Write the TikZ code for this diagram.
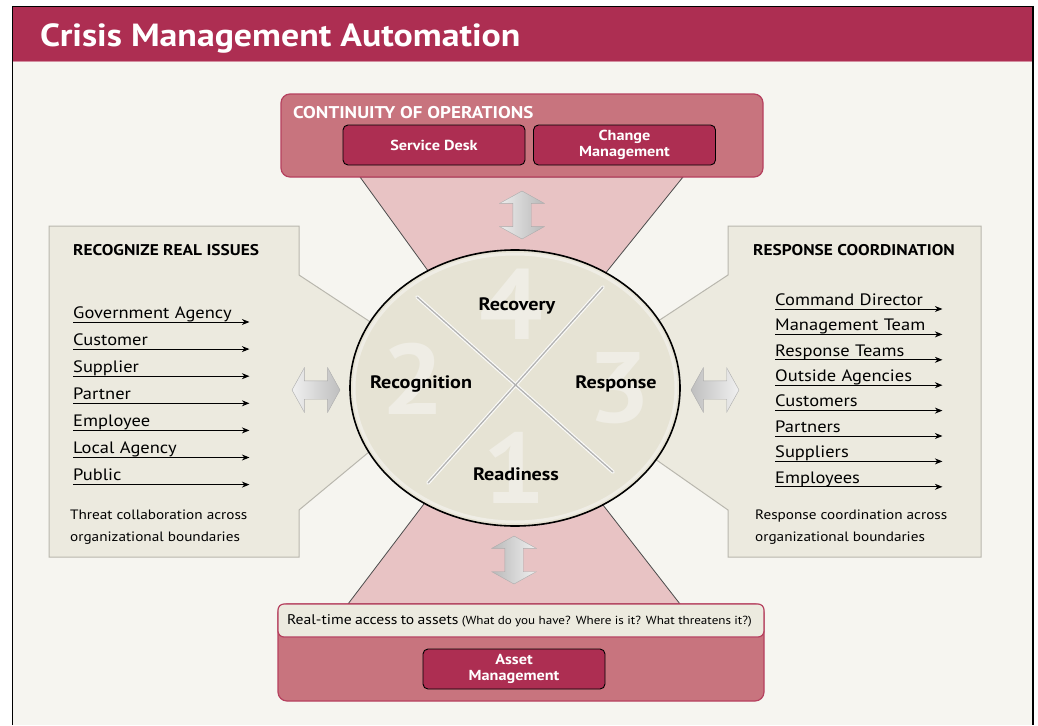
\documentclass[tikz,border=0pt]{standalone}
\usepackage{fontspec}
\setmainfont{PT Sans}[FakeStretch=1.12]
\usepackage{xcolor}
\usepackage{tikz}
\usetikzlibrary{arrows.meta,positioning,shapes.arrows,shapes.geometric}

\definecolor{crimson}{HTML}{AD2E52}
\definecolor{rose}{HTML}{C8747E}
\definecolor{roseline}{HTML}{B6415F}
\definecolor{blush}{HTML}{E8C3C4}
\definecolor{paper}{HTML}{F6F5F0}
\definecolor{sand}{HTML}{ECEADF}
\definecolor{sandline}{HTML}{B9B7AE}
\definecolor{disc}{HTML}{E6E3D4}
\definecolor{ghost}{HTML}{EFEDE5}

\begin{document}
\begin{tikzpicture}[
    x=1pt, y=-1pt,
    >={Stealth[length=7.5pt, width=6pt]},
    node distance=7.7pt,
    panel/.style={draw=roseline, fill=rose, line width=1.2pt, rounded corners=9pt},
    tool/.style={draw=black, fill=crimson, text=white, line width=0.9pt, rounded corners=5pt, align=center, font=\fontsize{14.5}{16}\selectfont\bfseries, minimum width=182pt, minimum height=40pt},
    heading/.style={font=\fontsize{15.5}{17}\selectfont\bfseries, inner sep=0pt, anchor=base west},
    item/.style={font=\fontsize{16.5}{18}\selectfont, text width=#1, text height=12pt, text depth=0pt, inner xsep=0pt, inner ysep=3.5pt, align=left},
    note/.style={font=\fontsize{13.6}{22}\selectfont, inner sep=0pt, anchor=base west, align=left},
    phase/.style={font=\fontsize{18}{20}\selectfont\bfseries},
    bignum/.style={font=\fontsize{100}{100}\selectfont\bfseries, text=ghost},
    bigarrow/.style={double arrow, double arrow head extend=13pt, double arrow tip angle=122, minimum height=48pt, inner sep=9pt, draw=gray!65},
    funnel/.style={fill=blush, draw=black!70, line width=0.8pt},
    side/.style={fill=sand, draw=sandline, line width=1pt}
]
\useasboundingbox (0,0) rectangle (1038,725);

% page and title bar
\fill[paper] (12,6) rectangle (1033,725);
\fill[crimson] (13,7) rectangle (1032,61);
\draw[roseline!60, line width=1pt] (13,61.5) -- (1032,61.5);
\draw[line width=1.5pt] (12.5,725) -- (12.5,6.5) -- (1033,6.5) -- (1033,725);
\node[anchor=base west, inner sep=0pt, text=white, font=\fontsize{32}{34}\selectfont\bfseries] (title) at (40,47) {Crisis Management Automation};

% funnels into the cycle
\draw[funnel] (360,177) -- (683,177) -- (513,388) -- cycle;
\draw[funnel] (348,604) -- (680,604) -- (512,388) -- cycle;

% side panels
\draw[side] (49,226) -- (299,226) -- (299,275) -- (457,379) -- (299,510) -- (299,557) -- (49,557) -- cycle;
\draw[side] (981,226) -- (728,226) -- (728,275) -- (555,389) -- (728,510) -- (728,557) -- (981,557) -- cycle;

% cycle of phases
\node[draw, ellipse, fill=disc, line width=1.6pt, minimum width=330pt, minimum height=276pt] (cycle) at (515,388) {};
\draw[ghost, line width=3pt] (515,388) ellipse [x radius=161, y radius=134];
\node[bignum] (n4) at (511,304) {4};
\node[bignum] (n2) at (413,379) {2};
\node[bignum] (n3) at (619,388) {3};
\node[bignum] (n1) at (514,468) {1};
\draw[white!60!paper, line width=3.6pt, line cap=round] (417,297) -- (613,472);
\draw[white!60!paper, line width=3.6pt, line cap=round] (603,287) -- (428,483);
\draw[gray!60, line width=1.3pt, line cap=round] (417,297) -- (613,472);
\draw[gray!60, line width=1.3pt, line cap=round] (603,287) -- (428,483);
\node[phase] (recovery) at (517,306) {Recovery};
\node[phase] (recognition) at (421,384) {Recognition};
\node[phase] (response) at (616,384) {Response};
\node[phase] (readiness) at (516,474) {Readiness};

% continuity of operations
\node[panel, minimum width=482pt, minimum height=83pt] (coop) at (522,135.5) {};
\node[heading, text=white, font=\fontsize{17}{18}\selectfont\bfseries] (cooptitle) at (293,118) {CONTINUITY OF OPERATIONS};
\node[tool] (desk) at (434,145) {Service Desk};
\node[tool] (change) at (624.5,145) {Change\\Management};

% asset management
\node[panel, minimum width=486pt, minimum height=97pt] (assets) at (521,652.5) {};
\node[draw=roseline, fill=sand, line width=1.2pt, rounded corners=6pt, minimum width=486pt, minimum height=33pt, text width=468pt, inner xsep=9pt, align=left, anchor=north] (access) at (assets.north) {\fontsize{14}{16}\selectfont Real-time access to assets {\fontsize{11.7}{14}\selectfont (What do you have? Where is it? What threatens it?)}};
\node[tool] (assetmgmt) at (514,669) {Asset\\Management};

% recognize real issues
\node[heading] (recog) at (73,255) {RECOGNIZE REAL ISSUES};
\node[item=176pt, anchor=south west] (gov) at (73,322) {Government Agency};
\node[item=176pt, below=of gov] (cust) {Customer};
\node[item=176pt, below=of cust] (supp) {Supplier};
\node[item=176pt, below=of supp] (part) {Partner};
\node[item=176pt, below=of part] (empl) {Employee};
\node[item=176pt, below=of empl] (local) {Local Agency};
\node[item=176pt, below=of local] (public) {Public};
\draw[->, line width=0.9pt] (gov.south west) -- (gov.south east);
\draw[->, line width=0.9pt] (cust.south west) -- (cust.south east);
\draw[->, line width=0.9pt] (supp.south west) -- (supp.south east);
\draw[->, line width=0.9pt] (part.south west) -- (part.south east);
\draw[->, line width=0.9pt] (empl.south west) -- (empl.south east);
\draw[->, line width=0.9pt] (local.south west) -- (local.south east);
\draw[->, line width=0.9pt] (public.south west) -- (public.south east);
\node[note] (threat) at (70,541) {Threat collaboration across\\organizational boundaries};

% response coordination
\node[heading] (coord) at (753,255) {RESPONSE COORDINATION};
\node[item=167pt, anchor=south west] (cmd) at (775,309) {Command Director};
\node[item=167pt, below=6pt of cmd] (mgmt) {Management Team};
\node[item=167pt, below=6pt of mgmt] (teams) {Response Teams};
\node[item=167pt, below=6pt of teams] (outside) {Outside Agencies};
\node[item=167pt, below=6pt of outside] (custs) {Customers};
\node[item=167pt, below=6pt of custs] (parts) {Partners};
\node[item=167pt, below=6pt of parts] (supps) {Suppliers};
\node[item=167pt, below=6pt of supps] (empls) {Employees};
\draw[->, line width=0.9pt] (cmd.south west) -- (cmd.south east);
\draw[->, line width=0.9pt] (mgmt.south west) -- (mgmt.south east);
\draw[->, line width=0.9pt] (teams.south west) -- (teams.south east);
\draw[->, line width=0.9pt] (outside.south west) -- (outside.south east);
\draw[->, line width=0.9pt] (custs.south west) -- (custs.south east);
\draw[->, line width=0.9pt] (parts.south west) -- (parts.south east);
\draw[->, line width=0.9pt] (supps.south west) -- (supps.south east);
\draw[->, line width=0.9pt] (empls.south west) -- (empls.south east);
\node[note] (respnote) at (755,541) {Response coordination across\\organizational boundaries};

% two-way links
\node[bigarrow, rotate=90, left color=gray!15, right color=gray!55] (uplink) at (522,215) {};
\node[bigarrow, rotate=90, left color=gray!55, right color=gray!12] (downlink) at (514,560) {};
\node[bigarrow, left color=gray!12, right color=gray!50] (leftlink) at (316,390) {};
\node[bigarrow, left color=gray!50, right color=gray!12] (rightlink) at (715,390) {};
\end{tikzpicture}
\end{document}
